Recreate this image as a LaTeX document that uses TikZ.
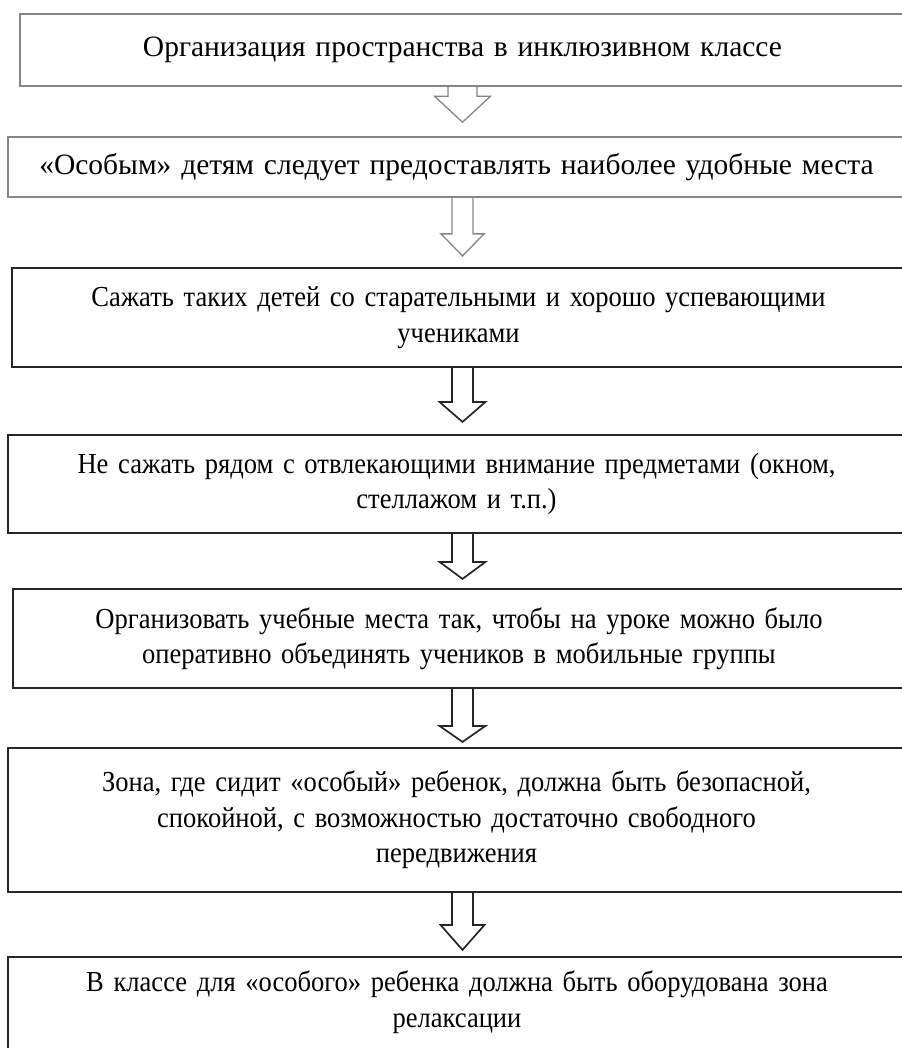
\documentclass[tikz,border=0pt]{standalone}
\usepackage{fontspec}
\setmainfont{Liberation Serif}
\newfontfamily\narrowserif[FakeStretch=0.915]{Liberation Serif}
\usetikzlibrary{calc}

\begin{document}
\begin{tikzpicture}[
      x=1pt, y=-1pt,
      ax/.store in=\AX, ax=462.5,       % axis of the arrows
      grbox/.style={draw=gray!95, line width=1.6pt, inner sep=0pt,
        align=center, text width=880pt,
        font=\fontsize{29.5}{35.5}\selectfont},
      bkbox/.style={grbox, draw=black!85, line width=2.2pt,
        font=\narrowserif\fontsize{29}{35.5}\selectfont},
      grarr/.style={draw=gray!95, line width=1.3pt},
      bkarr/.style={draw=black!85, line width=1.7pt},
    ]
    \useasboundingbox (0,0) rectangle (901,1048);

    % Helper macro: \harrow{from}{to}{stem}{head}{head len}{gap}{style}
    % stem, head = half-widths, gap = tip to next box
    \newcommand{\harrow}[7]{%
      \draw[#7] ($(\AX,0 |- #1.south)+(-#3,0)$)
        -- ($(\AX,0 |- #2.north)+(-#3,-#6-#5)$)
        -- ($(\AX,0 |- #2.north)+(-#4,-#6-#5)$)
        -- ($(\AX,0 |- #2.north)+(0,-#6)$)
        -- ($(\AX,0 |- #2.north)+(#4,-#6-#5)$)
        -- ($(\AX,0 |- #2.north)+(#3,-#6-#5)$)
        -- ($(\AX,0 |- #1.south)+(#3,0)$);
    }

    % Boxes
    \node[grbox, minimum width=885, minimum height=72] (b1) at (462.5, 50)
      {Организация пространства в инклюзивном классе};
    \node[grbox, minimum width=897, minimum height=60] (b2) at (456.5, 167)
      {«Особым» детям следует предоставлять наиболее удобные места};
    \node[bkbox, minimum width=893, minimum height=99] (b3) at (458.5, 317.5)
      {Сажать таких детей со старательными и хорошо успевающими\\ учениками};
    \node[bkbox, minimum width=897, minimum height=98] (b4) at (456.5, 484)
      {Не сажать рядом с отвлекающими внимание предметами (окном,\\ стеллажом и т.п.)};
    \node[bkbox, minimum width=892, minimum height=99] (b5) at (459, 638.5)
      {Организовать учебные места так, чтобы на уроке можно было\\ оперативно объединять учеников в мобильные группы};
    \node[bkbox, minimum width=897, minimum height=144] (b6) at (456.5, 820)
      {Зона, где сидит «особый» ребенок, должна быть безопасной,\\ спокойной, с возможностью достаточно свободного\\ передвижения};
    \node[bkbox, draw=none, minimum width=896, minimum height=88] (b7) at (457, 1002)
      {В классе для «особого» ребенка должна быть оборудована зона\\ релаксации};
    % last box runs off the page
    \draw[bkarr, line width=2.2pt] ([yshift=-20pt]b7.south west) -- (b7.north west)
      -- (b7.north east) -- ([yshift=-20pt]b7.south east);

    % Arrows
    \harrow{b1}{b2}{14.5}{28}{26}{14}{grarr}
    \harrow{b2}{b3}{10.5}{21.5}{22}{11}{grarr}
    \harrow{b3}{b4}{10.5}{23}{20}{12}{bkarr}
    \harrow{b4}{b5}{10.5}{23}{17}{9}{bkarr}
    \harrow{b5}{b6}{10.5}{23}{16}{5}{bkarr}
    \harrow{b6}{b7}{10.5}{22}{25}{7}{bkarr}
  \end{tikzpicture}
\end{document}
